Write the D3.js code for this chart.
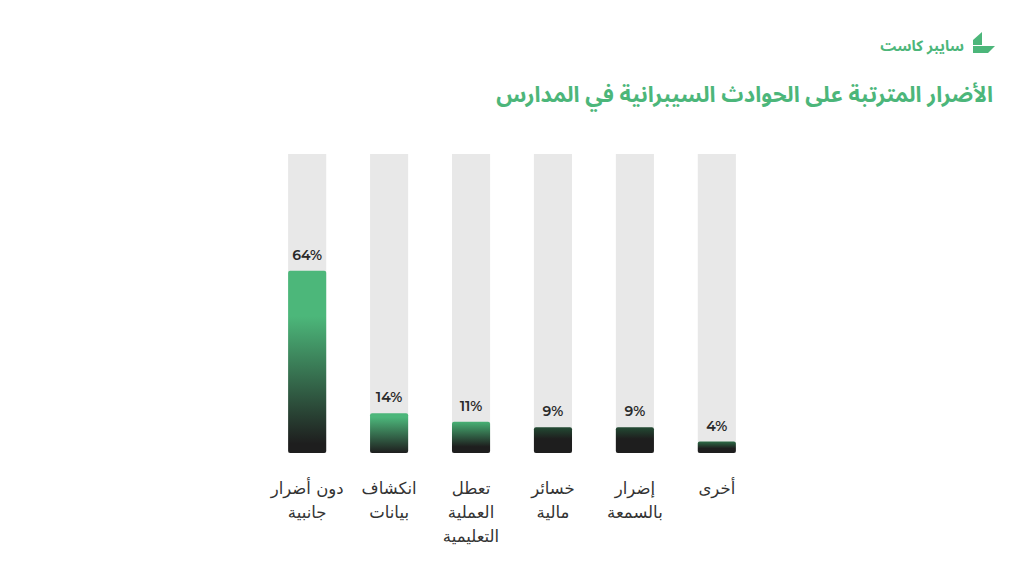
<!DOCTYPE html>
<html><head><meta charset="utf-8">
<script src="https://cdn.jsdelivr.net/npm/d3@7"></script>
<style>
html,body{margin:0;padding:0;background:#fff;}
svg{display:block;}
</style></head>
<body>
<svg id="chart" width="1024" height="576"></svg>
<script>
// Data
const categories = [
  ["دون أضرار","جانبية"],
  ["انكشاف","بيانات"],
  ["تعطل","العملية","التعليمية"],
  ["خسائر","مالية"],
  ["إضرار","بالسمعة"],
  ["أخرى"]
];
const values = [64, 14, 11, 9, 9, 4];
const valueLabels = ["64%","14%","11%","9%","9%","4%"];
const titleText = "الأضرار المترتبة على الحوادث السيبرانية في المدارس";
const brandText = "سايبر كاست";

// Styles
const green = "#4cb67a";
const dark = "#1e1e1e";
const topColors = ["#4cb77a","#4cb67a","#47b174","#234a33","#234a33","#2d6a46"];
const greenStops = [0.25, 0.1, 0.0, 0.0, 0.0, 0.0];
const darkStops = [0.95, 1.0, 0.8, 0.45, 0.45, 0.6];

const svg = d3.select("#chart");
const arabicFont = "'Noto Sans Arabic','Noto Sans','DejaVu Sans',sans-serif";
const labelFont = "'DejaVu Sans',sans-serif";

const x = d3.scaleBand().domain(d3.range(values.length)).range([266, 758]).paddingInner(0.535).paddingOuter(0.27);
const yTop = 154, yBot = 453;
const y = d3.scaleLinear().domain([0, 105]).range([yBot, yTop]);

const defs = svg.append("defs");
values.forEach((v,i)=>{
  const g = defs.append("linearGradient").attr("id","grad"+i).attr("x1",0).attr("y1",0).attr("x2",0).attr("y2",1);
  g.append("stop").attr("offset",0).attr("stop-color",topColors[i]);
  g.append("stop").attr("offset",greenStops[i]).attr("stop-color",topColors[i]);
  g.append("stop").attr("offset",darkStops[i]).attr("stop-color",dark);
  g.append("stop").attr("offset",1).attr("stop-color",dark);
});

// background bars
svg.selectAll("rect.bg").data(values).join("rect").attr("class","bg")
  .attr("x",(d,i)=>x(i)).attr("width",x.bandwidth())
  .attr("y",y(105)).attr("height",y(0)-y(105))
  .attr("fill","#e8e8e8");

// value bars
svg.selectAll("rect.val").data(values).join("rect").attr("class","val")
  .attr("x",(d,i)=>x(i)).attr("width",x.bandwidth())
  .attr("y",d=>y(d)).attr("height",d=>y(0)-y(d))
  .attr("rx",2).attr("fill",(d,i)=>`url(#grad${i})`);

// value labels
svg.selectAll("text.vl").data(values).join("text").attr("class","vl")
  .attr("x",(d,i)=>x(i)+x.bandwidth()/2).attr("y",d=>y(d)-11)
  .attr("text-anchor","middle")
  .style("font-family","Montserrat,Inter,'Open Sans',sans-serif")
  .style("font-weight","600").style("font-size","14px").attr("fill","#2a2a2a")
  .text((d,i)=>valueLabels[i]);

// category labels (one text per line)
const lines = [];
categories.forEach((ls,i)=>ls.forEach((l,j)=>lines.push({i,j,l})));
svg.selectAll("text.cat").data(lines).join("text").attr("class","cat")
  .attr("x",d=>x(d.i)+x.bandwidth()/2).attr("y",d=>494+d.j*24)
  .attr("text-anchor","middle").attr("direction","rtl")
  .style("font-family",labelFont).style("font-size","16.5px").attr("fill","#333")
  .text(d=>d.l);

// Title
svg.append("text").attr("x",993).attr("y",102).attr("text-anchor","start").attr("direction","rtl")
  .style("font-family",arabicFont).style("font-weight","bold").style("font-size","22px")
  .attr("fill",green).text(titleText);

// Brand
svg.append("text").attr("x",964).attr("y",51).attr("text-anchor","start").attr("direction","rtl")
  .style("font-family",arabicFont).style("font-weight","bold").style("font-size","15px")
  .attr("fill",green).text(brandText);
svg.append("path").attr("d","M973,40 L982,32 L982,45 L973,45 Z").attr("fill",green);
svg.append("path").attr("d","M973,46 L995,46 L988,53 L973,53 Z").attr("fill",green);
</script>
</body></html>
